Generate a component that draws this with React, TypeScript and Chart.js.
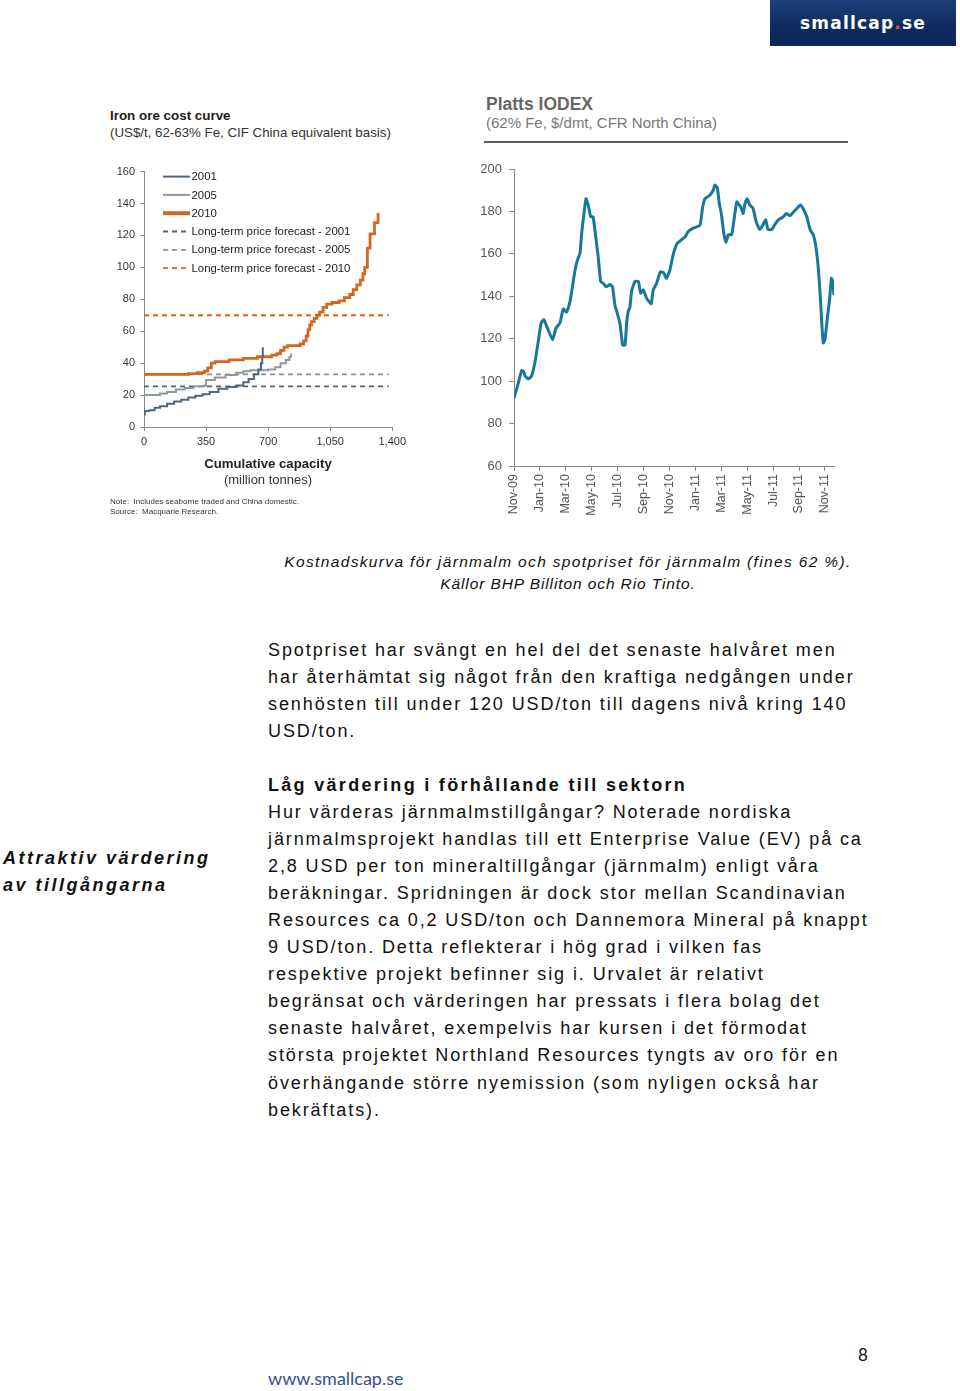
import { useEffect, useRef } from "react";
import { Chart, registerables } from "chart.js";

Chart.register(...registerables);

// ---------- Cost curve data (cumulative capacity Mt, cost US$/t) ----------
const capacity2001 = [0, 5, 30, 60, 90, 130, 170, 210, 250, 290, 330, 370, 420, 470, 520, 560, 590, 620, 645, 660, 667, 670];
const cost2001 = [8, 10, 10.5, 12, 13, 14.5, 16, 17, 18.5, 19.5, 20.5, 22, 24, 25, 26, 28, 30, 33, 36, 40, 44, 50];

const capacity2005 = [0, 90, 130, 180, 230, 280, 340, 350, 400, 460, 520, 560, 600, 700, 740, 770, 800, 820, 830];
const cost2005 = [20, 21, 22, 23.5, 24.5, 25.5, 26, 29.5, 31, 32.5, 34, 35, 35.5, 36, 37.5, 40, 42, 44, 46];

const capacity2010 = [0, 250, 300, 340, 360, 380, 400, 480, 560, 640, 720, 750, 770, 790, 810, 880, 900, 915, 925, 935, 945, 960, 975, 990, 1010, 1030, 1060, 1100, 1130, 1160, 1180, 1200, 1220, 1235, 1245, 1260, 1275, 1300, 1320];
const cost2010 = [33, 33.5, 34, 35, 37, 40, 41, 42, 43, 44, 45, 46, 48, 50, 51, 52, 54, 57, 61, 64, 66, 68, 70, 72, 75, 77, 78, 79, 81, 83, 86, 89, 92, 96, 100, 112, 121, 128, 134];

const forecastCapacity = [0, 1380];
const forecast2001 = [25.5, 25.5];
const forecast2005 = [33, 33];
const forecast2010 = [70, 70];

const costTicks = [0, 20, 40, 60, 80, 100, 120, 140, 160];
const capacityTicks = [0, 350, 700, 1050, 1400];

// ---------- Platts IODEX data (months since Nov-09, $/dmt) ----------
const iodexMonths = [0, 0.33, 0.59, 0.75, 0.85, 1.1, 1.36, 1.62, 1.88, 2.05, 2.14, 2.3, 2.45, 2.65, 2.98, 3.24, 3.55, 3.8, 4.05, 4.3, 4.45, 4.65, 4.84, 5.1, 5.22, 5.4, 5.56, 5.73, 5.92, 6.1, 6.25, 6.5, 6.69, 6.9, 7.1, 7.4, 7.6, 7.8, 7.95, 8.18, 8.39, 8.57, 8.69, 8.82, 8.95, 9.08, 9.34, 9.6, 9.77, 9.98, 10.24, 10.5, 10.6, 10.75, 11, 11.3, 11.56, 11.77, 12.04, 12.3, 12.6, 12.9, 13.2, 13.45, 13.8, 14.35, 14.56, 14.74, 15.1, 15.38, 15.5, 15.7, 15.84, 16, 16.2, 16.36, 16.54, 16.8, 17.05, 17.2, 17.5, 17.7, 17.8, 18, 18.2, 18.45, 18.7, 18.97, 19.2, 19.43, 19.6, 19.9, 20.1, 20.4, 20.8, 21, 21.3, 21.7, 22.1, 22.3, 22.6, 22.85, 23.1, 23.3, 23.5, 23.67, 23.74, 23.87, 24, 24.2, 24.35, 24.4, 24.5, 24.6, 24.7];
const iodexValues = [92, 99, 105, 104.5, 102.5, 101, 102.5, 109, 119, 126, 128, 129, 127, 124, 119.5, 125, 127.5, 134, 132.5, 137, 142, 150, 156, 160.5, 169.5, 179, 186, 183, 177.5, 177.5, 171, 158.5, 147, 146, 144.5, 145.5, 144.5, 135.5, 132.5, 127, 117, 117, 127, 133, 135, 142.5, 147, 147, 141.5, 143, 139, 137, 136.5, 143, 146, 151.5, 151, 148.5, 152.5, 160, 165, 166.5, 168, 170.5, 172, 173.5, 182, 186, 187.5, 190, 192.5, 191, 184, 179, 169.5, 165.5, 169, 169, 179, 184.5, 182, 179, 183, 186, 183, 181.5, 175, 171.5, 173.5, 176, 171.5, 171.5, 173.5, 176, 177.5, 179, 178, 180.5, 183, 181.5, 177.5, 171.5, 169, 163.5, 152.5, 137, 129, 118, 119.5, 130.5, 138, 141.5, 148.5, 147, 140.5];
const iodexTickMonths = [0, 2, 4, 6, 8, 10, 12, 14, 16, 18, 20, 22, 24];
const iodexTickLabels = ["Nov-09", "Jan-10", "Mar-10", "May-10", "Jul-10", "Sep-10", "Nov-10", "Jan-11", "Mar-11", "May-11", "Jul-11", "Sep-11", "Nov-11"];
const iodexYTicks = [60, 80, 100, 120, 140, 160, 180, 200];

const FONT = '"Liberation Sans", Arial, sans-serif';

function pts(xs: number[], ys: number[]) {
  return xs.map((x, i) => ({ x, y: ys[i] }));
}

const costLegend = {
  id: "costLegend",
  afterDatasetsDraw(chart: any) {
    const { ctx, chartArea } = chart;
    const x0 = chartArea.left + 19;
    const x1 = chartArea.left + 46;
    chart.data.datasets.forEach((ds: any, i: number) => {
      const y = chartArea.top + 5 + i * 18.3;
      ctx.save();
      ctx.strokeStyle = ds.borderColor;
      ctx.lineWidth = ds.legendWidth || ds.borderWidth;
      ctx.setLineDash(ds.borderDash || []);
      ctx.beginPath();
      ctx.moveTo(x0, y);
      ctx.lineTo(x1, y);
      ctx.stroke();
      ctx.setLineDash([]);
      ctx.fillStyle = "#222";
      ctx.font = `11.4px ${FONT}`;
      ctx.textBaseline = "middle";
      ctx.fillText(ds.label, x1 + 1.5, y + 0.5);
      ctx.restore();
    });
  },
};

function axisCommon(tickLength: number) {
  return {
    border: { display: true, color: "#8a8a8a", width: 1 },
    grid: { display: true, drawOnChartArea: false, drawTicks: true, tickLength, color: "#8a8a8a" },
  };
}

function costConfig(): any {
  const line = (label: string, xs: number[], ys: number[], color: string, width: number, extra: any = {}) => ({
    label,
    data: pts(xs, ys),
    borderColor: color,
    backgroundColor: color,
    borderWidth: width,
    pointRadius: 0,
    fill: false,
    ...extra,
  });
  return {
    type: "line",
    data: {
      datasets: [
        line("2001", capacity2001, cost2001, "#4f687a", 2, { stepped: true }),
        line("2005", capacity2005, cost2005, "#8f999c", 2, { stepped: true }),
        line("2010", capacity2010, cost2010, "#d6661e", 2.8, { stepped: true, legendWidth: 4 }),
        line("Long-term price forecast - 2001", forecastCapacity, forecast2001, "#55636d", 1.8, { borderDash: [5, 4] }),
        line("Long-term price forecast - 2005", forecastCapacity, forecast2005, "#8a9296", 1.8, { borderDash: [5, 4] }),
        line("Long-term price forecast - 2010", forecastCapacity, forecast2010, "#d6661e", 1.8, { borderDash: [5, 4] }),
      ],
    },
    options: {
      animation: false,
      responsive: false,
      layout: { padding: { left: 0, right: 17, top: 11, bottom: 0 } },
      plugins: { legend: { display: false }, tooltip: { enabled: false }, title: { display: false } },
      scales: {
        x: {
          type: "linear",
          min: 0,
          max: 1400,
          ...axisCommon(4),
          afterBuildTicks: (s: any) => { s.ticks = capacityTicks.map((v) => ({ value: v })); },
          afterFit: (s: any) => { s.height = 33; },
          ticks: {
            color: "#333",
            font: { family: FONT, size: 11 },
            padding: 4,
            maxRotation: 0,
            callback: (v: number) => v.toLocaleString("en-US"),
          },
        },
        y: {
          type: "linear",
          min: 0,
          max: 160,
          ...axisCommon(4),
          afterBuildTicks: (s: any) => { s.ticks = costTicks.map((v) => ({ value: v })); },
          afterFit: (s: any) => { s.width = 44; },
          ticks: { color: "#333", font: { family: FONT, size: 11 }, padding: 5 },
        },
      },
    },
    plugins: [costLegend],
  };
}

function iodexConfig(): any {
  return {
    type: "line",
    data: {
      datasets: [
        {
          label: "Platts IODEX",
          data: pts(iodexMonths, iodexValues),
          borderColor: "#17789b",
          borderWidth: 3,
          pointRadius: 0,
          tension: 0.15,
          borderJoinStyle: "round",
          fill: false,
        },
      ],
    },
    options: {
      animation: false,
      responsive: false,
      layout: { padding: { left: 0, right: 16, top: 19, bottom: 0 } },
      plugins: { legend: { display: false }, tooltip: { enabled: false } },
      scales: {
        x: {
          type: "linear",
          min: 0,
          max: 24.7,
          ...axisCommon(5),
          afterBuildTicks: (s: any) => { s.ticks = iodexTickMonths.map((v) => ({ value: v })); },
          afterFit: (s: any) => { s.height = 54; },
          ticks: {
            color: "#555",
            font: { family: FONT, size: 12.5 },
            padding: 3,
            minRotation: 90,
            maxRotation: 90,
            autoSkip: false,
            callback: (v: number) => iodexTickLabels[iodexTickMonths.indexOf(v)],
          },
        },
        y: {
          type: "linear",
          min: 60,
          max: 200,
          ...axisCommon(5),
          afterBuildTicks: (s: any) => { s.ticks = iodexYTicks.map((v) => ({ value: v })); },
          afterFit: (s: any) => { s.width = 44; },
          ticks: { color: "#555", font: { family: FONT, size: 13 }, padding: 7 },
        },
      },
    },
  };
}

function ChartCanvas({ make, left, top, width, height }: { make: () => any; left: number; top: number; width: number; height: number }) {
  const ref = useRef<HTMLCanvasElement | null>(null);
  useEffect(() => {
    const chart = new Chart(ref.current as HTMLCanvasElement, make());
    return () => chart.destroy();
  }, []);
  return (
    <canvas
      ref={ref}
      width={width}
      height={height}
      style={{ position: "absolute", left, top, width, height }}
    />
  );
}

const abs = (left: number, top: number, extra: any = {}) => ({ position: "absolute" as const, left, top, whiteSpace: "nowrap" as const, ...extra });

const para1 = [
  "Spotpriset har svängt en hel del det senaste halvåret men",
  "har återhämtat sig något från den kraftiga nedgången under",
  "senhösten till under 120 USD/ton till dagens nivå kring 140",
  "USD/ton.",
];
const heading2 = "Låg värdering i förhållande till sektorn";
const para2 = [
  "Hur värderas järnmalmstillgångar? Noterade nordiska",
  "järnmalmsprojekt handlas till ett Enterprise Value (EV) på ca",
  "2,8 USD per ton mineraltillgångar (järnmalm) enligt våra",
  "beräkningar. Spridningen är dock stor mellan Scandinavian",
  "Resources ca 0,2 USD/ton och Dannemora Mineral på knappt",
  "9 USD/ton. Detta reflekterar i hög grad i vilken fas",
  "respektive projekt befinner sig i. Urvalet är relativt",
  "begränsat och värderingen har pressats i flera bolag det",
  "senaste halvåret, exempelvis har kursen i det förmodat",
  "största projektet Northland Resources tyngts av oro för en",
  "överhängande större nyemission (som nyligen också har",
  "bekräftats).",
];

export default function App() {
  const body = { fontFamily: FONT, fontSize: 18, color: "#111", letterSpacing: "1.9px", lineHeight: "27.1px" };
  return (
    <div style={{ position: "absolute", left: 0, top: 0, width: 960, height: 1391, overflow: "hidden", background: "#fff" }}>
      {/* Logo */}
      <div
        style={{
          position: "absolute", left: 770, top: 0, width: 186, height: 46,
          background: "linear-gradient(180deg, #1d3f78 0%, #0f2c60 55%, #0b2657 100%)",
          color: "#fff", display: "flex", alignItems: "center", justifyContent: "center",
          fontFamily: '"DejaVu Sans", sans-serif', fontWeight: 700, fontSize: 17, letterSpacing: "1.2px",
        }}
      >
        smallcap<span style={{ color: "#e05a2a" }}>.</span>se
      </div>

      {/* Left chart titles */}
      <div style={abs(110, 108, { fontFamily: FONT, fontSize: 13.4, fontWeight: 700, color: "#222" })}>Iron ore cost curve</div>
      <div style={abs(110, 125, { fontFamily: FONT, fontSize: 13.3, color: "#333" })}>(US$/t, 62-63% Fe, CIF China equivalent basis)</div>
      <ChartCanvas make={costConfig} left={100} top={160} width={310} height={300} />
      <div style={abs(168, 456, { width: 200, textAlign: "center", fontFamily: FONT, fontSize: 13.2, fontWeight: 700, color: "#222" })}>Cumulative capacity</div>
      <div style={abs(168, 472, { width: 200, textAlign: "center", fontFamily: FONT, fontSize: 13, color: "#333" })}>(million tonnes)</div>
      <div style={abs(110, 497, { fontFamily: FONT, fontSize: 8, color: "#333" })}>Note:&nbsp; Includes seaborne traded and China domestic.</div>
      <div style={abs(110, 507, { fontFamily: FONT, fontSize: 8, color: "#333" })}>Source:&nbsp; Macquarie Research.</div>

      {/* Right chart titles */}
      <div style={abs(486, 94, { fontFamily: FONT, fontSize: 17.5, fontWeight: 700, color: "#666" })}>Platts IODEX</div>
      <div style={abs(486, 114, { fontFamily: FONT, fontSize: 15, color: "#777" })}>(62% Fe, $/dmt, CFR North China)</div>
      <div style={{ position: "absolute", left: 484, top: 141, width: 364, height: 2, background: "#5c5c5c" }} />
      <ChartCanvas make={iodexConfig} left={470} top={150} width={380} height={370} />

      {/* Caption */}
      <div style={abs(168, 551, { width: 800, textAlign: "center", fontFamily: FONT, fontStyle: "italic", fontSize: 15.5, letterSpacing: "1.35px", lineHeight: "22px", color: "#111" })}>
        <div>Kostnadskurva för järnmalm och spotpriset för järnmalm (fines 62 %).</div>
        <div style={{ letterSpacing: "0.9px" }}>Källor BHP Billiton och Rio Tinto.</div>
      </div>

      {/* Paragraph 1 */}
      <div style={abs(268, 636.5, body)}>
        {para1.map((l, i) => (<div key={i}>{l}</div>))}
      </div>

      {/* Side heading */}
      <div style={abs(3, 844.5, { fontFamily: FONT, fontSize: 18, fontWeight: 700, fontStyle: "italic", letterSpacing: "2.5px", lineHeight: "27px", color: "#111" })}>
        <div>Attraktiv värdering</div>
        <div>av tillgångarna</div>
      </div>

      {/* Heading + paragraph 2 */}
      <div style={abs(268, 771.5, body)}>
        <div style={{ fontWeight: 700, letterSpacing: "2.3px" }}>{heading2}</div>
        {para2.map((l, i) => (<div key={i}>{l}</div>))}
      </div>

      {/* Footer */}
      <div style={abs(858, 1344, { fontFamily: "Lato, sans-serif", fontSize: 17, color: "#111" })}>8</div>
      <div style={abs(268, 1367, { fontFamily: "Lato, sans-serif", fontSize: 18, color: "#2f528f" })}>www.smallcap.se</div>
    </div>
  );
}
